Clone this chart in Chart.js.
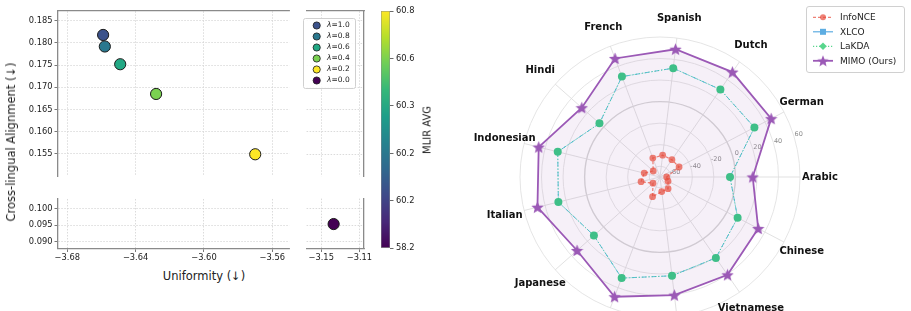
<!DOCTYPE html>
<html lang="en">
  <head>
    <meta charset="UTF-8" />
    <title>Uniformity vs alignment / MLIR radar</title>
    <script src="https://cdn.jsdelivr.net/npm/chart.js@4.5.0/dist/chart.umd.min.js"></script>
    <style>
      body { margin: 0; width: 911px; height: 311px; overflow: hidden; background: #fff;
             font-family: "DejaVu Sans", sans-serif; color: #222; }
      canvas, .lbl { position: absolute; }
      .lbl { white-space: nowrap; transform: translate(-50%, -50%); }
      .rot { transform: translate(-50%, -50%) rotate(-90deg); }
    </style>
  </head>
  <body>
    <canvas id="tl" width="296" height="183" style="left:0;top:0"></canvas>
    <canvas id="tr" width="80" height="183" style="left:300px;top:0"></canvas>
    <canvas id="bl" width="296" height="75" style="left:0;top:192px"></canvas>
    <canvas id="br" width="80" height="75" style="left:300px;top:192px"></canvas>
    <canvas id="cbar" width="60" height="260" style="left:375px;top:0"></canvas>
    <canvas id="radar" width="451" height="340" style="left:460px;top:0"></canvas>

    <div class="lbl rot" style="left:11px;top:142px;font-size:11.5px">Cross-lingual Alignment (↓)</div>
    <div class="lbl" style="left:204px;top:276px;font-size:11.5px">Uniformity (↓)</div>
    <div class="lbl rot" style="left:427px;top:130px;font-size:10px">MLIR AVG</div>

    <script>
      // ---- scatter: one point per lambda
      const lambdas = ["1.0", "0.8", "0.6", "0.4", "0.2", "0.0"];
      const uniformity = [-3.659, -3.658, -3.649, -3.628, -3.570, -3.137];
      const alignment = [0.1818, 0.1792, 0.1752, 0.1685, 0.1549, 0.0953];
      const lambdaColors = ["#3b528b", "#2a788e", "#22a884", "#7ad151", "#fde725", "#440154"];

      const xTicksLeft = [-3.68, -3.64, -3.6, -3.56];
      const xTicksRight = [-3.15, -3.11];
      const yTicksTop = [0.155, 0.16, 0.165, 0.17, 0.175, 0.18, 0.185];
      const yTicksBottom = [0.09, 0.095, 0.1];
      const cbarLabels = ["58.2", "60.2", "60.2", "60.3", "60.6", "60.8"];

      // ---- radar (matplotlib order, counter-clockwise from the right)
      const languages = ["Arabic", "German", "Dutch", "Spanish", "French", "Hindi", "Indonesian",
                         "Italian", "Japanese", "Portuguese", "Russian", "Vietnamese", "Chinese"];
      const infonce = [-63.8, -50.0, -50.5, -49.6, -51.2, -61.6, -54.9, -51.9, -61.3, -50.5, -56.4, -56.8, -61.6];
      const xlco = [-5.0, 29.0, 28.7, 31.8, 29.7, 5.1, 27.8, 27.2, 12.0, 30.4, 22.4, 21.3, 11.4];
      const lakda = [-5.0, 29.0, 28.7, 31.8, 29.7, 5.1, 27.8, 27.2, 12.0, 30.4, 22.4, 21.3, 11.4];
      const mimo = [16.1, 46.6, 48.4, 49.5, 47.7, 27.0, 46.0, 47.2, 32.9, 48.9, 40.5, 40.4, 33.0];
      const rTicks = [-60, -40, -20, 0, 20, 40, 60];

      Chart.defaults.font.family = "DejaVu Sans";
      Chart.defaults.color = "#222";
      Chart.defaults.animation = false;

      const setTicks = (vals) => (s) => { s.ticks = vals.map((v) => ({ value: v })); };
      const fmtX = (v) => (v < 0 ? "\u2212" : "") + Math.abs(v).toFixed(2);
      const fmtY = (v) => v.toFixed(3);
      const grid = { color: "#d2d2d2", lineWidth: 0.8, tickColor: "#555", tickWidth: 0.8, tickLength: 3.5 };
      const spine = { color: "#8a8a8a", width: 1.3, dash: [1.5, 1.5] };

      // legend box of the lambda values, inside the top-right panel
      const lambdaLegend = {
        id: "lambdaLegend",
        afterDraw(chart) {
          const ctx = chart.ctx;
          ctx.save();
          ctx.fillStyle = "rgba(255,255,255,0.85)";
          ctx.strokeStyle = "#d0d0d0";
          ctx.lineWidth = 1;
          ctx.beginPath();
          ctx.roundRect(3.5, 18.5, 52, 70, 2);
          ctx.fill();
          ctx.stroke();
          ctx.textBaseline = "middle";
          lambdas.forEach((l, i) => {
            const y = 25.5 + i * 11;
            ctx.beginPath();
            ctx.arc(16.7, y, 3.6, 0, Math.PI * 2);
            ctx.fillStyle = lambdaColors[i];
            ctx.fill();
            ctx.strokeStyle = "#1a1a1a";
            ctx.lineWidth = 0.8;
            ctx.stroke();
            ctx.fillStyle = "#222";
            ctx.font = "italic 7.5px DejaVu Sans";
            ctx.fillText("\u03bb", 27, y);
            const w = ctx.measureText("\u03bb").width;
            ctx.font = "7.5px DejaVu Sans";
            ctx.fillText("=" + l, 27 + w, y);
          });
          ctx.restore();
        },
      };

      function makePanel(id, cfg) {
        const top = cfg.xPos === "top";
        const left = cfg.yPos === "left";
        new Chart(document.getElementById(id), {
          type: "scatter",
          data: {
            datasets: [{
              data: uniformity.map((u, i) => ({ x: u, y: alignment[i] })),
              backgroundColor: lambdaColors,
              borderColor: "#1a1a1a",
              borderWidth: 1,
              pointRadius: 5.6,
              clip: 2,
            }],
          },
          options: {
            responsive: false,
            layout: { padding: cfg.padding },
            plugins: { legend: { display: false }, tooltip: { enabled: false } },
            scales: {
              x: {
                type: "linear", position: cfg.xPos, min: cfg.xRange[0], max: cfg.xRange[1],
                afterBuildTicks: setTicks(cfg.xTicks),
                afterFit: (s) => { s.height = top ? 0 : 14; },
                ticks: { display: !top, callback: fmtX, font: { size: 8.3 }, padding: 1, maxRotation: 0, autoSkip: false },
                grid: { ...grid, drawTicks: !top },
                border: spine,
              },
              y: {
                type: "linear", position: cfg.yPos, min: cfg.yRange[0], max: cfg.yRange[1],
                afterBuildTicks: setTicks(cfg.yTicks),
                afterFit: (s) => { s.width = left ? 58 : 0; },
                ticks: { display: left, callback: fmtY, font: { size: 8.3 }, padding: 2, autoSkip: false },
                grid: { ...grid, drawTicks: left },
                border: spine,
              },
            },
          },
          plugins: cfg.plugins || [],
        });
      }

      const xLeft = [-3.6854, -3.55];
      const xRight = [-3.1653, -3.1052];
      const yTop = [0.15, 0.1872];
      const yBottom = [0.088, 0.1029];

      makePanel("tl", { xPos: "top", yPos: "left", xRange: xLeft, yRange: yTop, xTicks: xTicksLeft, yTicks: yTicksTop,
        padding: { top: 11, left: 0, right: 0, bottom: 0 } });
      makePanel("tr", { xPos: "top", yPos: "right", xRange: xRight, yRange: yTop, xTicks: xTicksRight, yTicks: yTicksTop,
        padding: { top: 11, left: 5, right: 16, bottom: 0 }, plugins: [lambdaLegend] });
      makePanel("bl", { xPos: "bottom", yPos: "left", xRange: xLeft, yRange: yBottom, xTicks: xTicksLeft, yTicks: yTicksBottom,
        padding: { top: 0, left: 0, right: 0, bottom: 4.5 } });
      makePanel("br", { xPos: "bottom", yPos: "right", xRange: xRight, yRange: yBottom, xTicks: xTicksRight, yTicks: yTicksBottom,
        padding: { top: 0, left: 5, right: 16, bottom: 4.5 } });

      // ---- colorbar
      const viridis = ["#440154", "#482878", "#3e4989", "#31688e", "#26828e", "#1f9e89", "#35b779", "#6ece58", "#b5de2b", "#fde725"];
      new Chart(document.getElementById("cbar"), {
        type: "bar",
        data: {
          labels: [""],
          datasets: [{
            data: [cbarLabels.length - 1],
            barPercentage: 1,
            categoryPercentage: 1,
            borderColor: "#8a8a8a",
            borderWidth: 0.8,
            borderSkipped: false,
            backgroundColor: (c) => {
              const a = c.chart.chartArea;
              if (!a) return viridis[0];
              const g = c.chart.ctx.createLinearGradient(0, a.bottom, 0, a.top);
              viridis.forEach((col, i) => g.addColorStop(i / (viridis.length - 1), col));
              return g;
            },
          }],
        },
        options: {
          responsive: false,
          layout: { padding: { left: 6, top: 11, bottom: 11.7, right: 0 } },
          plugins: { legend: { display: false }, tooltip: { enabled: false } },
          scales: {
            x: { display: false },
            y: {
              position: "right", min: 0, max: cbarLabels.length - 1,
              afterBuildTicks: setTicks(cbarLabels.map((_, i) => i)),
              afterFit: (s) => { s.width = 45; },
              ticks: { callback: (v, i) => cbarLabels[i], font: { size: 8.3 }, padding: 2.5 },
              grid: { drawOnChartArea: false, tickLength: 3.5, color: "#444", tickWidth: 0.8 },
              border: { display: false },
            },
          },
        },
      });

      // ---- radar
      function makeStar(size, color) {
        const c = document.createElement("canvas");
        c.width = size;
        c.height = size;
        const g = c.getContext("2d");
        const R = size / 2, r = R * 0.45;
        g.beginPath();
        for (let i = 0; i < 10; i++) {
          const rad = i % 2 ? r : R;
          const a = -Math.PI / 2 + (i * Math.PI) / 5;
          g.lineTo(R + rad * Math.cos(a), R + 0.6 + rad * Math.sin(a));
        }
        g.closePath();
        g.fillStyle = color;
        g.fill();
        return c;
      }
      const star = makeStar(13, "#9b59b6");
      const starSmall = makeStar(12, "#9b59b6");

      // chart.js walks clockwise from startAngle, so flip the order after Arabic
      const ccw = (a) => [a[0], ...a.slice(1).reverse()];

      const legendItems = [
        { label: "InfoNCE", color: "rgba(231,76,60,0.7)", dash: [3, 2], width: 1.2, marker: "circle" },
        { label: "XLCO", color: "#5dade2", dash: [], width: 1.2, marker: "square" },
        { label: "LaKDA", color: "#58d68d", dash: [1.2, 1.8], width: 1.2, marker: "diamond" },
        { label: "MIMO (Ours)", color: "#9b59b6", dash: [], width: 1.8, marker: "star" },
      ];

      const radarText = {
        id: "radarText",
        beforeDatasetsDraw(chart) {
          const s = chart.scales.r, ctx = chart.ctx;
          const a = (17 * Math.PI) / 180;
          ctx.save();
          ctx.font = "6.5px DejaVu Sans";
          ctx.fillStyle = "#8c8c8c";
          ctx.textAlign = "center";
          ctx.textBaseline = "middle";
          rTicks.forEach((v) => {
            const d = s.getDistanceFromCenterForValue(v) + 5;
            ctx.fillText(String(v), s.xCenter + d * Math.cos(a), s.yCenter - d * Math.sin(a));
          });
          ctx.restore();
        },
        afterDraw(chart) {
          const s = chart.scales.r, ctx = chart.ctx;
          ctx.save();
          ctx.font = "bold 10px DejaVu Sans";
          ctx.fillStyle = "#111";
          ctx.textAlign = "center";
          ctx.textBaseline = "middle";
          chart.data.labels.forEach((name, i) => {
            const p = s.getPointPosition(i, s.drawingArea + 20);
            ctx.fillText(name, p.x, p.y);
          });

          // legend box
          ctx.fillStyle = "rgba(255,255,255,0.9)";
          ctx.strokeStyle = "#d0d0d0";
          ctx.lineWidth = 1;
          ctx.beginPath();
          ctx.roundRect(346.5, 6.5, 98, 66, 2.5);
          ctx.fill();
          ctx.stroke();
          ctx.textAlign = "left";
          ctx.font = "9px DejaVu Sans";
          legendItems.forEach((it, i) => {
            const y = 17.3 + i * 14.5;
            ctx.strokeStyle = it.color;
            ctx.lineWidth = it.width;
            ctx.setLineDash(it.dash);
            ctx.beginPath();
            ctx.moveTo(353, y);
            ctx.lineTo(373, y);
            ctx.stroke();
            ctx.setLineDash([]);
            ctx.fillStyle = it.color;
            if (it.marker === "circle") {
              ctx.beginPath();
              ctx.arc(363, y, 3, 0, Math.PI * 2);
              ctx.fill();
            } else if (it.marker === "square") {
              ctx.fillRect(360, y - 3, 6, 6);
            } else if (it.marker === "diamond") {
              ctx.beginPath();
              ctx.moveTo(363, y - 3.8);
              ctx.lineTo(366.8, y);
              ctx.lineTo(363, y + 3.8);
              ctx.lineTo(359.2, y);
              ctx.closePath();
              ctx.fill();
            } else {
              ctx.drawImage(starSmall, 363 - 6, y - 6);
            }
            ctx.fillStyle = "#222";
            ctx.fillText(it.label, 380, y + 0.5);
          });
          ctx.restore();
        },
      };

      new Chart(document.getElementById("radar"), {
        type: "radar",
        data: {
          labels: ccw(languages),
          datasets: [
            {
              label: "InfoNCE", data: ccw(infonce), order: 1,
              borderColor: "rgba(231,76,60,0.7)", borderWidth: 1.2, borderDash: [3, 2],
              pointRadius: 3.4, pointBackgroundColor: "rgba(231,76,60,0.7)", pointBorderWidth: 0, fill: false,
            },
            {
              label: "LaKDA", data: ccw(lakda), order: 2,
              borderColor: "rgba(72,201,160,0.9)", borderWidth: 1, borderDash: [1.2, 2],
              pointRadius: 4, pointBackgroundColor: "#3fbf88", pointBorderWidth: 0, fill: false,
            },
            {
              label: "XLCO", data: ccw(xlco), order: 3,
              borderColor: "#5bb8dc", borderWidth: 1, borderDash: [5, 2, 1, 2],
              pointStyle: "rect", pointRadius: 3.5, pointBackgroundColor: "#5dade2", pointBorderWidth: 0, fill: false,
            },
            {
              label: "MIMO (Ours)", data: ccw(mimo), order: 4,
              borderColor: "#9b59b6", borderWidth: 1.8,
              pointStyle: star, pointRadius: 6,
              fill: "start", backgroundColor: "rgba(155,89,182,0.09)",
            },
          ],
        },
        options: {
          responsive: false,
          layout: { padding: { left: 60, top: 37, right: 111, bottom: 23 } },
          plugins: { legend: { display: false }, tooltip: { enabled: false } },
          scales: {
            r: {
              min: -70, max: 60, startAngle: 90,
              afterBuildTicks: setTicks(rTicks),
              ticks: { display: false },
              pointLabels: { display: false },
              grid: {
                circular: true,
                color: (c) => (c.tick && c.tick.value === 0 ? "#d6d6d6" : "#e2e2e2"),
                lineWidth: (c) => (c.tick && c.tick.value === 0 ? 1.4 : 0.9),
              },
              angleLines: { color: "#dedede", lineWidth: 0.9 },
            },
          },
        },
        plugins: [radarText],
      });
    </script>
  </body>
</html>
